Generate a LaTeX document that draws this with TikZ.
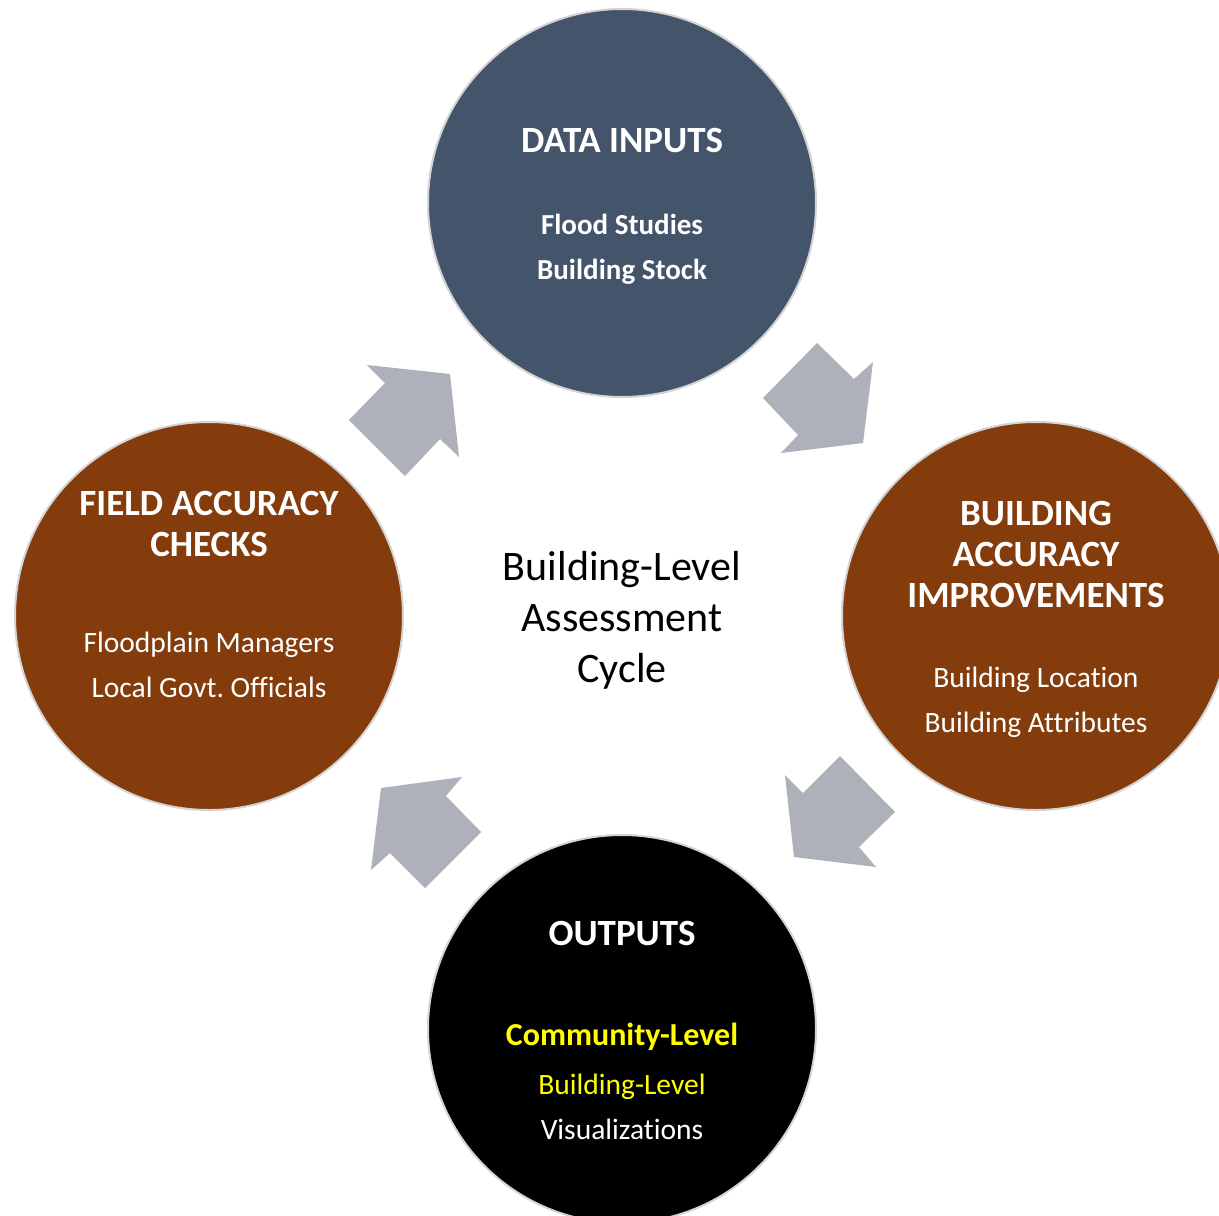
\documentclass[tikz,border=0pt]{standalone}
\usepackage{fontspec}
\setmainfont[Ligatures={NoCommon,NoRare,NoContextual}]{Carlito}
\definecolor{slate}{HTML}{44546A}
\definecolor{rust}{HTML}{843C0C}
\definecolor{arrowgray}{HTML}{AEB1B9}
\definecolor{rimgray}{HTML}{D4D4D4}
\definecolor{hiyellow}{HTML}{FFFF00}
\tikzset{
  stage/.style={circle, draw=rimgray, line width=2pt, minimum size=388pt, inner sep=0pt},
  ttl/.style={anchor=base, text=white, font=\fontsize{37}{44}\selectfont\bfseries, inner sep=0pt},
  subb/.style={anchor=base, text=white, font=\fontsize{29}{35}\selectfont\bfseries, inner sep=0pt},
  subr/.style={anchor=base, text=white, font=\fontsize{29.5}{35}\selectfont, inner sep=0pt},
  mid/.style={anchor=base, text=black, font=\fontsize{42}{50}\selectfont, inner sep=0pt},
  blockarrow/.style={fill=arrowgray, draw=none}
}
\begin{document}
\frenchspacing
\begin{tikzpicture}[x=1pt,y=-1pt]
\useasboundingbox (0,0) rectangle (1219,1216);
\fill[white] (0,0) rectangle (1219,1216);
\clip (0,0) rectangle (1219,1216);
% circles
\node[stage, fill=slate] (inputs) at (622,203) {};
\node[stage, fill=rust] (improve) at (1036,616) {};
\node[stage, fill=rust] (checks) at (209,616) {};
\node[stage, fill=black] (outputs) at (622,1029) {};
% block arrows
\fill[blockarrow] (367,365) -- (450,374) -- (459,457) -- (440,439) -- (405,476) -- (349,420) -- (385,383) -- cycle;
\fill[blockarrow] (817,343) -- (854,379) -- (873,362) -- (863,443) -- (781,453) -- (798,435) -- (763,398) -- cycle;
\fill[blockarrow] (840,756) -- (895,812) -- (859,847) -- (876,867) -- (794,857) -- (785,775) -- (803,793) -- cycle;
\fill[blockarrow] (462,777) -- (446,796) -- (481,832) -- (425,888) -- (390,853) -- (371,870) -- (381,788) -- cycle;
% top
\node[ttl] (t1) at (622,152) {DATA INPUTS};
\node[subb] (t2) at (622,234) {Flood Studies};
\node[subb] (t3) at (622,279) {Building Stock};
% right
\node[ttl] (r1) at (1036,525) {BUILDING};
\node[ttl] (r2) at (1036,566) {ACCURACY};
\node[ttl] (r3) at (1036,607) {IMPROVEMENTS};
\node[subr] (r4) at (1036,687) {Building Location};
\node[subr] (r5) at (1036,732) {Building Attributes};
% left
\node[ttl] (l1) at (209,515) {FIELD ACCURACY};
\node[ttl] (l2) at (209,556) {CHECKS};
\node[subr] (l3) at (209,652) {Floodplain Managers};
\node[subr] (l4) at (209,697) {Local Govt. Officials};
% bottom
\node[ttl] (b1) at (622,945) {OUTPUTS};
\node[subb, font=\fontsize{32}{38}\selectfont\bfseries, text=hiyellow] (b2) at (622,1045) {Community-Level};
\node[subr, text=hiyellow] (b3) at (622,1094) {Building-Level};
\node[subr] (b4) at (622,1139) {Visualizations};
% centre
\node[mid] (c1) at (622,580) {Building-Level};
\node[mid] (c2) at (622,631) {Assessment};
\node[mid] (c3) at (622,682) {Cycle};
\end{tikzpicture}
\end{document}
